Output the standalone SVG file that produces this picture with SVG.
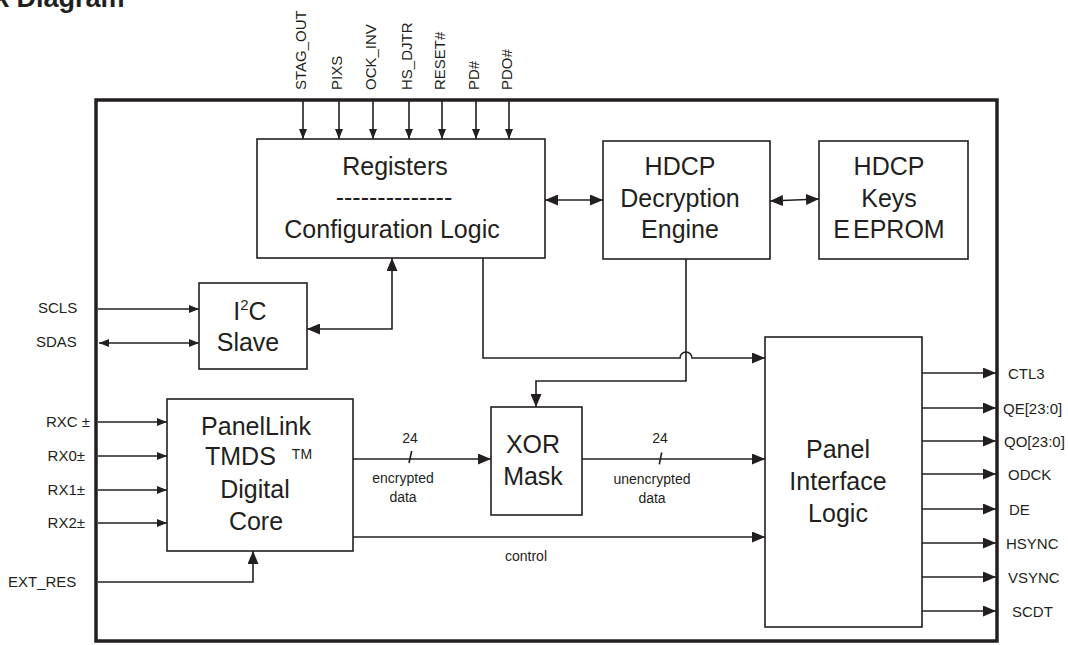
<svg xmlns="http://www.w3.org/2000/svg" width="1068" height="645" viewBox="0 0 1068 645">
<defs>
<style>
text{font-family:"Liberation Sans",Arial,Helvetica,sans-serif;fill:#231f20}
.blk{fill:#fff;stroke:#231f20;stroke-width:1.6}
.big{font-size:25px;text-anchor:middle}
.sig{font-size:15px}
.sm{font-size:14px;text-anchor:middle}
.ln{fill:none;stroke:#231f20;stroke-width:1.6}
.sa{marker-end:url(#a)}
.sb{marker-end:url(#b)}
</style>
<marker id="a" viewBox="0 0 10 8" refX="10" refY="4" markerWidth="10" markerHeight="8" orient="auto-start-reverse" markerUnits="userSpaceOnUse"><path d="M0,0 L10,4 L0,8 z" fill="#231f20"/></marker>
<marker id="b" viewBox="0 0 13 11" refX="13" refY="5.5" markerWidth="13" markerHeight="11" orient="auto-start-reverse" markerUnits="userSpaceOnUse"><path d="M0,0 L13,5.5 L0,11 z" fill="#231f20"/></marker>
</defs>
<rect width="1068" height="645" fill="#fff"/>
<text x="-6" y="7" font-size="27" font-weight="bold">k Diagram</text>
<rect x="96" y="100" width="901" height="541" fill="none" stroke="#231f20" stroke-width="3.5"/>

<g id="connectors">
<path class="ln sa" d="M303,100 V139"/>
<path class="ln sa" d="M339,100 V139"/>
<path class="ln sa" d="M373,100 V139"/>
<path class="ln sa" d="M409,100 V139"/>
<path class="ln sa" d="M442,100 V139"/>
<path class="ln sa" d="M476,100 V139"/>
<path class="ln sa" d="M509,100 V139"/>
<path class="ln" marker-start="url(#b)" marker-end="url(#b)" d="M545,200 H603"/>
<path class="ln" marker-start="url(#b)" marker-end="url(#b)" d="M770,201 L819,199"/>
<path class="ln sa" d="M98,309 H199"/>
<path class="ln" marker-start="url(#a)" marker-end="url(#a)" d="M99,343 H199"/>
<path class="ln" marker-start="url(#b)" marker-end="url(#b)" d="M307,329 H392 V258"/>
<path class="ln sb" d="M483,258 V358 H680 A6,6 0 0 1 692,358 H765"/>
<path class="ln sb" d="M686,259 V381 H536 V407"/>
<path class="ln sa" d="M98,422 H167"/>
<path class="ln sa" d="M98,456 H167"/>
<path class="ln sa" d="M98,490 H167"/>
<path class="ln sa" d="M98,523 H167"/>
<path class="ln sb" d="M98,582 H253 V551"/>
<path class="ln sb" d="M353,459 H491"/>
<path class="ln sb" d="M582,459 H765"/>
<path class="ln sb" d="M353,537 H765"/>
<path class="ln" d="M411.7,451 L409,463 M661.7,452.5 L659.3,464.3"/>
<path class="ln sb" d="M922,373 H996"/>
<path class="ln sb" d="M922,408 H996"/>
<path class="ln sb" d="M922,441 H996"/>
<path class="ln sb" d="M922,474 H996"/>
<path class="ln sb" d="M922,509 H996"/>
<path class="ln sb" d="M922,543 H996"/>
<path class="ln sb" d="M922,577 H996"/>
<path class="ln sb" d="M922,611 H996"/>
</g>

<g id="labels">
<g class="sig" font-size="14.5">
<text transform="translate(306,90) rotate(-90)">STAG_OUT</text>
<text transform="translate(342,90) rotate(-90)">PIXS</text>
<text transform="translate(376,90) rotate(-90)">OCK_INV</text>
<text transform="translate(412,90) rotate(-90)">HS_DJTR</text>
<text transform="translate(445,90) rotate(-90)">RESET#</text>
<text transform="translate(479,90) rotate(-90)">PD#</text>
<text transform="translate(512,90) rotate(-90)">PDO#</text>
</g>
<text class="sig" x="38" y="313">SCLS</text>
<text class="sig" x="36" y="347">SDAS</text>
<text class="sig" x="90" y="427" text-anchor="end">RXC ±</text>
<text class="sig" x="85" y="461" text-anchor="end">RX0±</text>
<text class="sig" x="85" y="495" text-anchor="end">RX1±</text>
<text class="sig" x="85" y="528" text-anchor="end">RX2±</text>
<text class="sig" x="8" y="587">EXT_RES</text>
<text class="sig" x="1008" y="379">CTL3</text>
<text class="sig" x="1003" y="414">QE[23:0]</text>
<text class="sig" x="1004" y="447">QO[23:0]</text>
<text class="sig" x="1008" y="480">ODCK</text>
<text class="sig" x="1009" y="515">DE</text>
<text class="sig" x="1006" y="549">HSYNC</text>
<text class="sig" x="1008" y="583">VSYNC</text>
<text class="sig" x="1012" y="617">SCDT</text>
<text class="sm" x="410" y="443">24</text>
<text class="sm" x="403" y="483">encrypted</text>
<text class="sm" x="403" y="502">data</text>
<text class="sm" x="660" y="443">24</text>
<text class="sm" x="652" y="484">unencrypted</text>
<text class="sm" x="652" y="503">data</text>
<text class="sm" x="526" y="561">control</text>
</g>

<g id="registers">
<rect class="blk" x="257" y="139" width="288" height="119"/>
<text class="big" x="395" y="175">Registers</text>
<text class="big" x="394" y="206" font-size="23.5">--------------</text>
<text class="big" x="392" y="238">Configuration Logic</text>
</g>
<g id="hdcp-engine">
<rect class="blk" x="603" y="141" width="167" height="118"/>
<text class="big" x="680" y="175">HDCP</text>
<text class="big" x="680" y="207">Decryption</text>
<text class="big" x="680" y="238">Engine</text>
</g>
<g id="hdcp-keys">
<rect class="blk" x="819" y="141" width="149" height="118"/>
<text class="big" x="889" y="175">HDCP</text>
<text class="big" x="889" y="207">Keys</text>
<text class="big" x="889" y="238">E<tspan dx="3">EPROM</tspan></text>
</g>
<g id="i2c-slave">
<rect class="blk" x="199" y="283" width="108" height="86"/>
<text class="big" x="250" y="320" font-size="24">I<tspan font-size="15" dy="-10">2</tspan><tspan dy="10">C</tspan></text>
<text class="big" x="248" y="351" font-size="24">Slave</text>
</g>
<g id="panellink">
<rect class="blk" x="167" y="399" width="186" height="152"/>
<text class="big" x="256" y="435">PanelLink</text>
<text x="205" y="465" font-size="25">TMDS<tspan dx="16" dy="-6" font-size="14">TM</tspan></text>
<text class="big" x="255" y="498">Digital</text>
<text class="big" x="256" y="530">Core</text>
</g>
<g id="xor-mask">
<rect class="blk" x="491" y="407" width="91" height="108"/>
<text class="big" x="533" y="453">XOR</text>
<text class="big" x="533" y="485">Mask</text>
</g>
<g id="panel-interface">
<rect class="blk" x="765" y="337" width="157" height="290"/>
<text class="big" x="838" y="458">Panel</text>
<text class="big" x="838" y="490">Interface</text>
<text class="big" x="838" y="522">Logic</text>
</g>
</svg>
